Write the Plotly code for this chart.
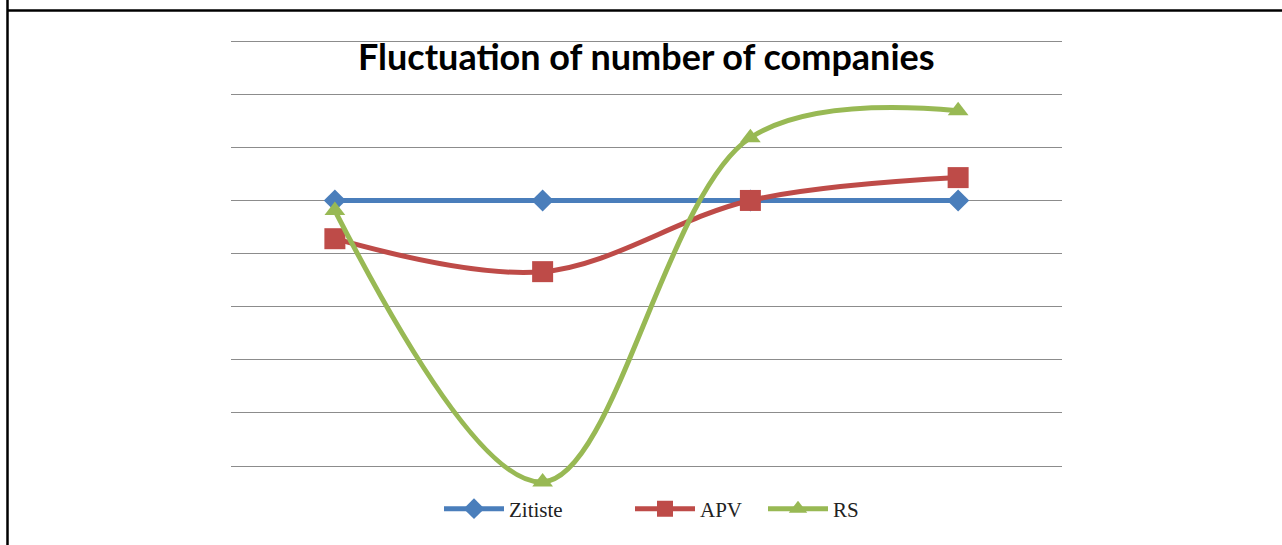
import plotly.graph_objects as go

categories = ["1", "2", "3", "4"]
zitiste = [5.0, 5.0, 5.0, 5.0]
apv = [4.28, 3.66, 5.0, 5.43]
rs = [4.81, -0.30, 6.18, 6.69]

series = [
    ("Zitiste", zitiste, "#4A7EBB", "diamond", 17, "legend", 443),
    ("APV", apv, "#BE4B48", "square", 21, "legend2", 634),
    ("RS", rs, "#98B954", "triangle-up", 18, "legend3", 767),
]

W, H = 1282, 545
L, R, T, B = 231, 220, 40, 45

pw = W - L - R
ph = H - T - B


def px_x(px):
    return (px - L) / pw


def px_y(py):
    return (H - B - py) / ph


fig = go.Figure()
for name, vals, col, sym, sz, leg, _ in series:
    fig.add_trace(go.Scatter(
        x=categories, y=vals, name=name, mode="lines+markers",
        line=dict(color=col, width=5, shape="spline", smoothing=1.0),
        marker=dict(color=col, symbol=sym, size=sz, line=dict(width=0)),
        cliponaxis=False, legend=leg,
    ))

legend_font = dict(family="Liberation Serif", size=21, color="#222222")
legends = {}
for name, vals, col, sym, sz, leg, lx in series:
    legends[leg] = dict(
        orientation="h", x=px_x(lx - 4), xanchor="left", y=px_y(509), yanchor="middle",
        font=legend_font, itemwidth=60, bgcolor="rgba(0,0,0,0)",
    )

fig.update_layout(
    width=W, height=H,
    margin=dict(l=L, r=R, t=T, b=B),
    paper_bgcolor="white", plot_bgcolor="white",
    showlegend=True,
    xaxis=dict(type="category", range=[-0.5, 3.5], showticklabels=False,
               showgrid=False, zeroline=False, showline=False, ticks=""),
    yaxis=dict(range=[-0.638, 8.02], tick0=0, dtick=1, showticklabels=False,
               showgrid=True, gridcolor="#8C8C8C", gridwidth=1,
               zeroline=False, showline=False, ticks=""),
    annotations=[dict(
        text="<b>Fluctuation of number of companies</b>", xref="paper", yref="paper",
        x=0.5, y=px_y(56), xanchor="center", yanchor="middle", showarrow=False,
        font=dict(family="Lato", size=36, color="black"),
    )],
    shapes=[
        dict(type="line", xref="paper", yref="paper", x0=px_x(7), x1=px_x(1290),
             y0=px_y(10.5), y1=px_y(10.5), line=dict(color="black", width=2.5)),
        dict(type="line", xref="paper", yref="paper", x0=px_x(7.5), x1=px_x(7.5),
             y0=px_y(-5), y1=px_y(550), line=dict(color="black", width=2.5)),
    ],
    **legends,
)

fig.write_html(
    "out.html",
    config={"displayModeBar": False},
    post_script="document.body.style.margin='0';document.body.style.overflow='hidden';",
)
